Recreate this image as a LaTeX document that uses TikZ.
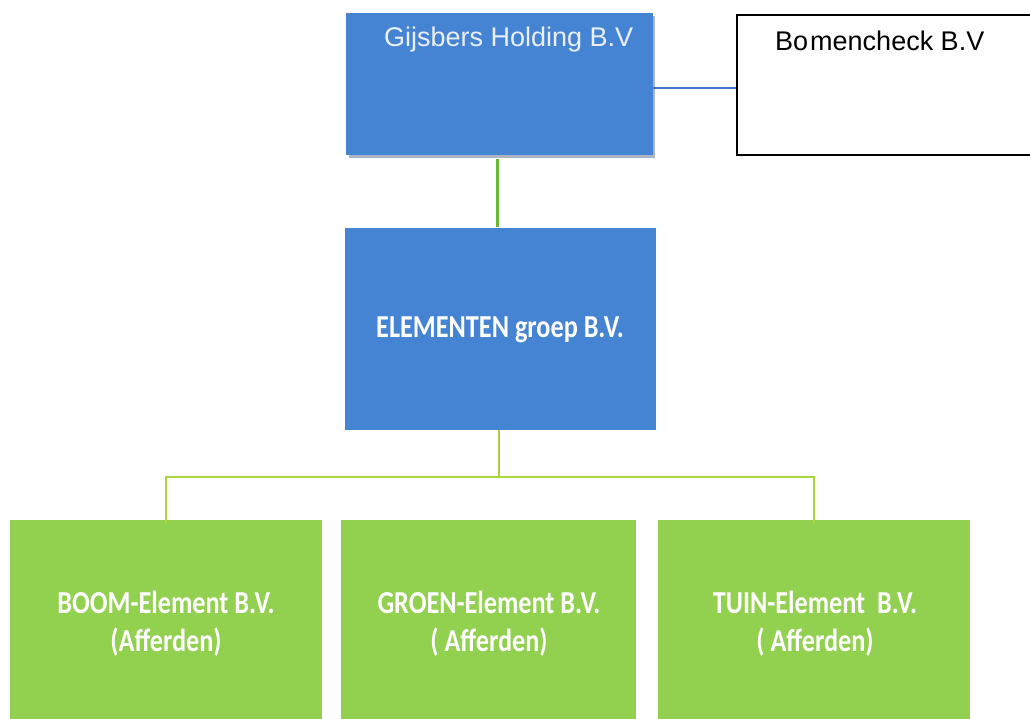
\documentclass[tikz,border=0pt]{standalone}
\usepackage{fontspec}
\setmainfont{Liberation Sans}
\newfontfamily\calfont[FakeStretch=0.82]{Carlito}
\definecolor{boxblue}{RGB}{69,131,211}
\definecolor{boxgreen}{RGB}{146,208,80}
\definecolor{linkblue}{RGB}{68,114,196}
\definecolor{linkgreen}{RGB}{104,186,52}
\definecolor{busgreen}{RGB}{170,214,60}
\definecolor{shadowgrey}{RGB}{170,180,195}
\definecolor{holdtxt}{RGB}{235,240,246}
\tikzset{
  bluebox/.style={rectangle, fill=boxblue, draw=none, inner sep=0pt},
  greenbox/.style={rectangle, fill=boxgreen, draw=none, inner sep=0pt},
  whitebox/.style={rectangle, fill=white, draw=black, line width=1.3pt, inner sep=0pt},
  caltext/.style={text=white, font=\calfont\bfseries\fontsize{32}{38}\selectfont, align=center, inner sep=0pt},
  arialtext/.style={font=\fontsize{27}{31}\selectfont, inner sep=0pt, anchor=west},
  blueline/.style={draw=linkblue, line width=1.3pt},
  greenline/.style={draw=linkgreen, line width=2.2pt},
  busline/.style={draw=busgreen, line width=1.6pt},
}
\begin{document}
\begin{tikzpicture}[x=1pt,y=-1pt]
\useasboundingbox (0,0) rectangle (1030,718);
\fill[white] (0,0) rectangle (1030,718);
% shadow of holding box
\fill[shadowgrey] (349,16) rectangle (655,158);
\node[bluebox, minimum width=307, minimum height=142] (hold) at (499.5,84) {};
\node[arialtext, text=holdtxt] (holdlbl) at (384,40) {Gijsbers Holding B.V};
\node[whitebox, minimum width=306, minimum height=140] (bomen) at (890,85) {};
\node[arialtext, text=black] (bomenlbl) at (775,41) {Bo\kern2pt mencheck B.V};
\node[bluebox, minimum width=311, minimum height=202] (elem) at (500.5,329) {};
\node[caltext] (elemlbl) at (500,330) {ELEMENTEN groep B.V.};
\node[greenbox, minimum width=312, minimum height=210] (b1) at (166,625) {};
\node[greenbox, minimum width=295, minimum height=210] (b2) at (488.5,625) {};
\node[greenbox, minimum width=312, minimum height=210] (b3) at (814,625) {};
\node[caltext] (b1lbl) at (166,624) {BOOM-Element B.V.\\(Afferden)};
\node[caltext] (b2lbl) at (489,624) {GROEN-Element B.V.\\( Afferden)};
\node[caltext] (b3lbl) at (815,624) {TUIN-Element\ \ B.V.\\( Afferden)};
% connectors
\draw[blueline] (hold.east |- 0,88) -- (bomen.west |- 0,88);
\draw[greenline] ([xshift=-2pt,yshift=-4pt]hold.south) -- ([xshift=-2pt,yshift=1pt]hold.south |- elem.north);
\coordinate (bus) at (499,477);
\draw[busline] (elem.south -| bus) -- (bus);
\draw[busline] ([yshift=-3pt]b1.north) -- (b1.north |- bus) -- (b3.north |- bus) -- ([yshift=-3pt]b3.north);
\end{tikzpicture}
\end{document}
